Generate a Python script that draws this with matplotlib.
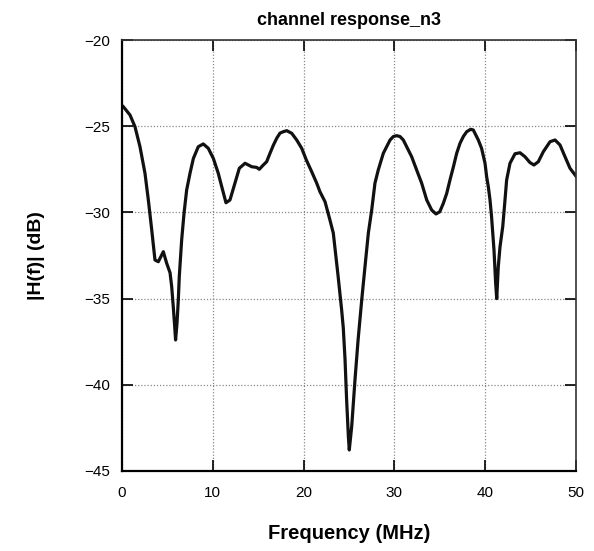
import matplotlib
matplotlib.use("Agg")
import matplotlib.pyplot as plt

freq_mhz = [0.0, 0.15, 0.88, 1.43, 1.98, 2.53, 2.9, 3.27, 3.63, 4.0, 4.55, 4.92, 5.29,
            5.47, 5.65, 5.8, 5.9, 6.06, 6.2, 6.31, 6.57, 6.83, 7.12, 7.49, 7.86, 8.4,
            8.95, 9.5, 10.06, 10.6, 10.98, 11.45, 11.89, 12.44, 12.92, 13.55, 14.28,
            14.83, 15.12, 15.56, 15.93, 16.3, 16.67, 17.04, 17.4, 17.76, 18.14, 18.69,
            19.24, 19.79, 20.3, 20.89, 21.44, 21.8, 22.36, 22.9, 23.27, 23.8, 24.19,
            24.37, 24.56, 24.74, 24.93, 25.03, 25.3, 25.66, 26.0, 26.4, 26.76, 27.13,
            27.5, 27.86, 28.22, 28.78, 29.52, 29.88, 30.25, 30.62, 30.98, 31.35, 31.9,
            32.45, 33.0, 33.56, 34.1, 34.58, 35.0, 35.39, 35.76, 36.12, 36.5, 36.86,
            37.22, 37.59, 37.96, 38.4, 38.69, 39.24, 39.6, 39.98, 40.16, 40.34, 40.53,
            40.7, 40.97, 41.15, 41.27, 41.44, 41.63, 41.93, 42.18, 42.36, 42.73, 43.28,
            43.83, 44.38, 44.93, 45.37, 45.85, 46.4, 47.14, 47.69, 48.24, 48.79, 49.34,
            50.0]
h_db = [-23.8, -23.87, -24.35, -25.03, -26.19, -27.73, -29.28, -31.0, -32.76, -32.86,
        -32.28, -32.95, -33.5, -34.3, -35.5, -36.6, -37.4, -36.4, -35.08, -33.7,
        -31.6, -30.05, -28.7, -27.73, -26.87, -26.19, -26.03, -26.28, -26.87, -27.73,
        -28.5, -29.44, -29.28, -28.3, -27.44, -27.15, -27.35, -27.39, -27.5, -27.25,
        -27.06, -26.57, -26.1, -25.7, -25.4, -25.32, -25.26, -25.41, -25.8, -26.28,
        -26.96, -27.64, -28.3, -28.8, -29.38, -30.44, -31.2, -33.7, -35.66, -36.7,
        -38.5, -40.9, -43.0, -43.78, -42.4, -39.7, -37.4, -35.08, -33.15, -31.2,
        -29.86, -28.3, -27.54, -26.57, -25.8, -25.6, -25.55, -25.6, -25.8, -26.19,
        -26.77, -27.54, -28.3, -29.28, -29.86, -30.09, -29.96, -29.47, -28.9, -28.12,
        -27.35, -26.57, -26.0, -25.6, -25.32, -25.18, -25.22, -25.8, -26.28, -27.15,
        -27.93, -28.5, -29.28, -30.25, -32.2, -34.1, -35.0, -33.15, -32.0, -30.83,
        -29.28, -28.12, -27.15, -26.6, -26.54, -26.77, -27.11, -27.25, -27.06, -26.48,
        -25.9, -25.8, -26.09, -26.77, -27.44, -27.9]
x_ticks = [0, 10, 20, 30, 40, 50]
y_ticks = [-45, -40, -35, -30, -25, -20]

plt.rcParams['font.family'] = ['Liberation Sans', 'DejaVu Sans']

fig = plt.figure(figsize=(5.94, 5.51), dpi=100)
ax = fig.add_axes([0.2054, 0.1452, 0.7643, 0.7822])

ax.plot(freq_mhz, h_db, color='#111111', linewidth=2.3, solid_joinstyle='round')

ax.set_xlim(0, 50)
ax.set_ylim(-45, -20)
ax.set_xticks(x_ticks)
ax.set_yticks(y_ticks)
ax.grid(True, color='#888888', linestyle=(0, (1, 1.5)), linewidth=0.9)
ax.tick_params(direction='in', length=8, width=1.2, top=True, right=True,
               labelsize=11)
ax.tick_params(axis='x', pad=11)
ax.tick_params(axis='y', pad=8.5)
for side in ['left', 'bottom']:
    ax.spines[side].set_linewidth(1.6)
for side in ['top', 'right']:
    ax.spines[side].set_linewidth(1.2)
    ax.spines[side].set_color('#333333')

ax.set_title('channel response_n3', fontsize=13, fontweight='bold', pad=11)
ax.set_xlabel('Frequency (MHz)', fontsize=14.5, fontweight='bold', labelpad=17)
ax.set_ylabel('|H(f)| (dB)', fontsize=14, fontweight='bold', labelpad=28)

fig.savefig('out.png', dpi=100)
